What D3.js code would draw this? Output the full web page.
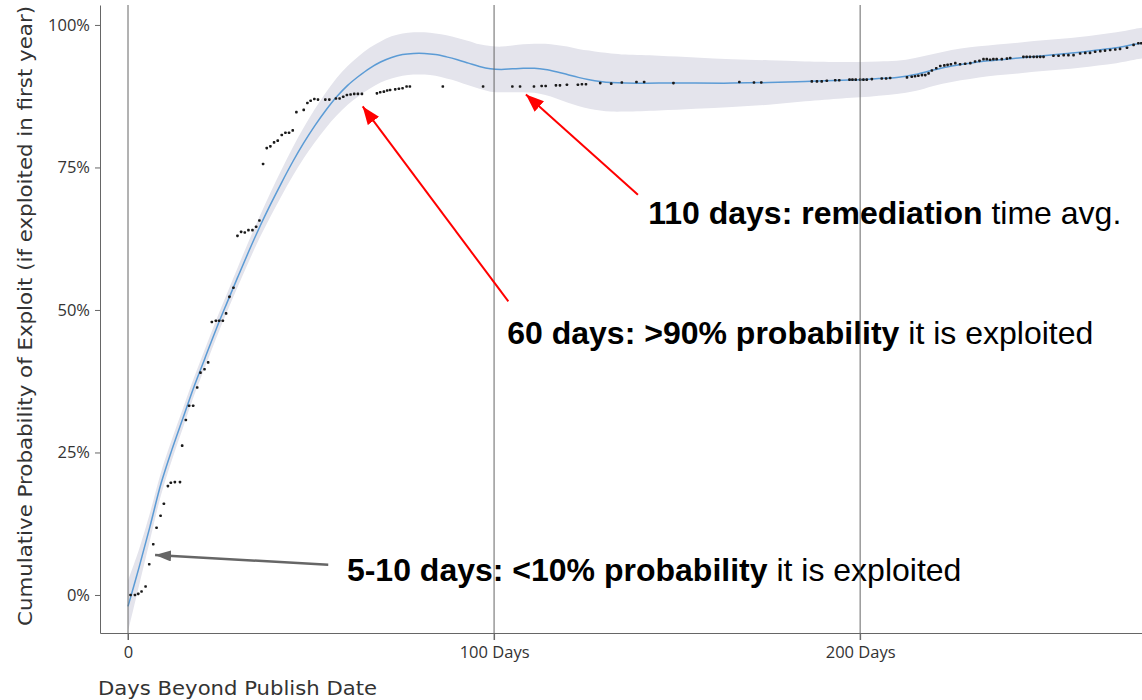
<!DOCTYPE html>
<html><head><meta charset="utf-8">
<script src="https://cdn.jsdelivr.net/npm/d3@7"></script>
<style>body{margin:0;background:#fff;overflow:hidden}</style>
</head><body><svg id="c" width="1142" height="700"></svg>
<script>
// ---- data ----
const dotDays=[0.7,1.9,2.8,3.7,4.8,5.8,6.9,7.8,8.9,9.8,10.9,11.7,12.8,14.2,14.8,15.8,16.7,17.8,18.9,19.8,20.9,21.9,22.9,24.0,24.9,25.9,26.8,27.7,28.8,29.9,30.9,31.9,32.9,34.0,35.0,35.9,36.9,37.9,38.9,39.9,40.9,42.0,43.0,44.0,45.0,46.0,48.0,49.0,49.9,50.9,51.9,53.9,55.0,56.8,57.8,58.8,59.8,60.8,61.8,62.8,63.9,68.0,68.9,69.9,70.8,71.6,73.0,74.0,75.0,76.1,77.0,86.0,97.0,105.0,107.1,110.9,113.0,114.1,116.9,118.0,119.9,122.9,124.0,125.1,129.0,132.0,134.9,138.9,141.0,149.0,167.0,171.0,173.0,186.8,188.2,189.5,190.9,193.2,194.3,197.1,197.9,198.8,200.0,200.9,201.8,203.2,205.9,207.1,208.2,212.8,214.1,215.0,215.9,216.9,217.8,218.7,219.6,220.8,221.9,223.0,223.9,224.8,226.0,227.3,228.7,230.1,231.4,232.6,233.7,234.6,235.5,236.4,237.3,238.7,240.1,241.0,244.6,245.5,246.4,247.4,248.3,249.2,250.1,252.8,254.2,255.6,256.9,258.3,260.1,261.5,262.8,264.2,265.6,266.9,268.3,269.7,271.0,272.9,274.7,276.0,276.8];
const dotPct=[0.0,0.0,0.2,0.6,1.5,5.4,8.9,11.8,13.9,16.0,19.1,19.7,19.8,19.8,26.2,30.7,33.2,33.2,36.4,39.0,39.6,40.8,47.9,48.1,48.1,48.1,49.4,52.3,53.9,63.0,63.7,63.6,64.0,64.0,64.6,65.7,75.6,78.4,78.7,79.4,79.7,80.7,81.1,81.1,81.5,84.7,85.1,86.3,86.7,87.0,86.9,86.9,86.9,87.1,87.1,87.4,87.7,87.8,87.9,87.9,87.9,88.0,88.2,88.3,88.5,88.6,88.7,88.8,88.9,89.2,89.2,89.2,89.2,89.2,89.2,89.2,89.3,89.3,89.4,89.4,89.5,89.5,89.6,89.6,89.8,89.7,89.9,90.0,90.0,89.8,90.0,89.9,89.9,90.1,90.1,90.1,90.2,90.3,90.3,90.4,90.4,90.4,90.4,90.4,90.4,90.5,90.6,90.6,90.7,90.8,90.9,91.0,91.1,91.2,91.2,91.5,92.0,92.4,92.8,92.9,93.0,93.1,93.3,93.1,93.2,93.3,93.6,93.7,94.0,94.0,93.9,94.0,94.0,94.0,94.1,94.2,94.4,94.4,94.4,94.4,94.4,94.4,94.4,94.6,94.6,94.7,94.7,94.7,95.0,95.1,95.1,95.3,95.4,95.5,95.6,95.7,95.8,96.0,96.5,96.8,96.8];

const fitDays=[0,3,6,9,12,15,18,21,24,27,30,33,36,39,42,45,48,51,54,57,60,63,66,69,72,75,78,81,84,87,90,93,96,99,102,105,108,111,114,117,120,123,126,129,132,136,145,155,165,175,185,195,200,205,210,215,220,225,230,235,240,245,250,255,260,265,270,275,278];
const fitPct=[-2,4.8,12,19.5,25.5,31,36.5,41.5,46.5,51.2,55.8,60.3,64.6,68.6,72.4,76,79.3,82.3,85,87.4,89.4,91,92.4,93.5,94.3,94.8,95.0,95.0,94.8,94.4,93.9,93.3,92.7,92.3,92.2,92.3,92.4,92.4,92.2,91.8,91.3,90.8,90.4,90.1,89.9,89.8,89.8,89.8,89.8,89.9,90.1,90.3,90.4,90.6,90.8,91.3,92.1,92.8,93.3,93.7,94.0,94.3,94.6,94.9,95.2,95.6,96.0,96.6,96.9];
const fitHalf=[4.5,3.2,2.4,2.0,1.8,1.7,1.6,1.6,1.6,1.6,1.7,1.8,1.9,2.1,2.3,2.5,2.7,2.9,3.1,3.3,3.4,3.5,3.6,3.6,3.7,3.7,3.7,3.7,3.7,3.8,3.8,3.9,3.9,4.0,4.0,4.1,4.2,4.3,4.5,4.7,4.9,5.0,5.1,5.1,5.1,5.0,4.8,4.5,4.2,3.9,3.5,3.2,3.1,3.0,2.9,2.9,2.8,2.8,2.8,2.7,2.7,2.7,2.7,2.7,2.7,2.7,2.7,2.7,2.7];

const xTicks=[0,100,200];
const xTickLabels=["0","100 Days","200 Days"];
const yTicks=[0,25,50,75,100];
const yTickLabels=["0%","25%","50%","75%","100%"];
const xTitle="Days Beyond Publish Date";
const yTitle="Cumulative Probability of Exploit (if exploited in first year)";

// annotations
const annBold=["110 days: remediation","60 days: >90% probability","5-10 days: <10% probability"];
const annNormal=[" time avg."," it is exploited"," it is exploited"];
const annText=[[142.1,65.1],[103.6,44.1],[59.8,2.4]];
const annTail=[[139.3,70.2],[103.9,51.5],[54.7,5.3]];
const annTip=[[108.7,87.8],[64.1,85.7],[7.4,7.0]];
const annColor=["#ff0000","#ff0000","#666666"];

// ---- chart ----
const svg=d3.select("#c");
const x=d3.scaleLinear().domain([-7.65,277]).range([100,1142]);
const y=d3.scaleLinear().domain([-6.67,103.5]).range([633,5]);
const axisFont="'Open Sans',Lato,sans-serif";
const titleFont="'DejaVu Sans',sans-serif";

const fit=fitDays.map((d,i)=>({d,p:fitPct[i],h:fitHalf[i]}));
const dots=dotDays.map((d,i)=>({d,p:dotPct[i]}));

svg.append("defs").html(
 '<clipPath id="pc"><rect x="100" y="0" width="1042" height="633"/></clipPath>'+
 '<marker id="ar" viewBox="0 0 18 14" refX="18" refY="7" markerWidth="18" markerHeight="14" markerUnits="userSpaceOnUse" orient="auto"><path d="M0,0L18,7L0,14z" fill="#ff0000"/></marker>'+
 '<marker id="ag" viewBox="0 0 16 11" refX="16" refY="5.5" markerWidth="16" markerHeight="11" markerUnits="userSpaceOnUse" orient="auto"><path d="M0,0L16,5.5L0,11z" fill="#666666"/></marker>');

const plot=svg.append("g").attr("clip-path","url(#pc)");

plot.append("path").datum(fit)
  .attr("d",d3.area().x(d=>x(d.d)).y0(d=>y(d.p-d.h)).y1(d=>y(d.p+d.h)).curve(d3.curveCatmullRom))
  .attr("fill","#e4e4ec");

const ann=svg.append("g");
annBold.forEach((b,i)=>{
  const t=ann.append("text").attr("x",x(annText[i][0])).attr("y",y(annText[i][1]))
    .attr("font-family","'Liberation Sans',Arial,sans-serif").attr("font-size",32).attr("fill","#000");
  t.append("tspan").attr("font-weight","bold").text(b);
  t.append("tspan").text(annNormal[i]);
});

svg.append("g").selectAll("line").data(xTicks).join("line")
  .attr("x1",d=>x(d)).attr("x2",d=>x(d)).attr("y1",y(103.5)).attr("y2",640)
  .attr("stroke","#666").attr("stroke-width",1);

plot.append("path").datum(fit)
  .attr("d",d3.line().x(d=>x(d.d)).y(d=>y(d.p)).curve(d3.curveCatmullRom))
  .attr("fill","none").attr("stroke","#5b9bd5").attr("stroke-width",1.5);

plot.append("g").selectAll("rect").data(dots).join("rect")
  .attr("x",d=>x(d.d)-1.3).attr("y",d=>y(d.p)-1.3).attr("width",2.6).attr("height",2.6).attr("rx",0.8).attr("fill","#1a1a1a");

const xa=svg.append("g").attr("transform","translate(0,633)")
  .call(d3.axisBottom(x).tickValues(xTicks).tickFormat((d,i)=>xTickLabels[i]).tickSize(7).tickSizeOuter(0));
xa.select(".domain").attr("stroke","#666");
xa.selectAll(".tick line").attr("stroke","#666");
xa.selectAll("text").attr("font-family",axisFont).attr("font-size",16.5).attr("fill","#333").attr("y",9).attr("dy","0.95em");

const ya=svg.append("g").attr("transform","translate(100,0)")
  .call(d3.axisLeft(y).tickValues(yTicks).tickFormat((d,i)=>yTickLabels[i]).tickSize(5).tickSizeOuter(0));
ya.select(".domain").attr("stroke","#666");
ya.selectAll(".tick line").attr("stroke","#666");
ya.selectAll("text").attr("font-family",axisFont).attr("font-size",16.5).attr("fill","#333").attr("x",-10);

svg.append("text").attr("x",98).attr("y",695).text(xTitle)
  .attr("font-family",titleFont).attr("font-size",20).attr("fill","#333")
  .attr("textLength",279).attr("lengthAdjust","spacingAndGlyphs");
svg.append("text").attr("transform","translate(32,316) rotate(-90)").attr("text-anchor","middle").text(yTitle)
  .attr("font-family",titleFont).attr("font-size",20).attr("fill","#333")
  .attr("textLength",620).attr("lengthAdjust","spacingAndGlyphs");

annTail.forEach((t,i)=>{
  svg.append("line").attr("x1",x(t[0])).attr("y1",y(t[1])).attr("x2",x(annTip[i][0])).attr("y2",y(annTip[i][1]))
    .attr("stroke",annColor[i]).attr("stroke-width",i===2?2.5:2)
    .attr("marker-end",i===2?"url(#ag)":"url(#ar)");
});
</script></body></html>
